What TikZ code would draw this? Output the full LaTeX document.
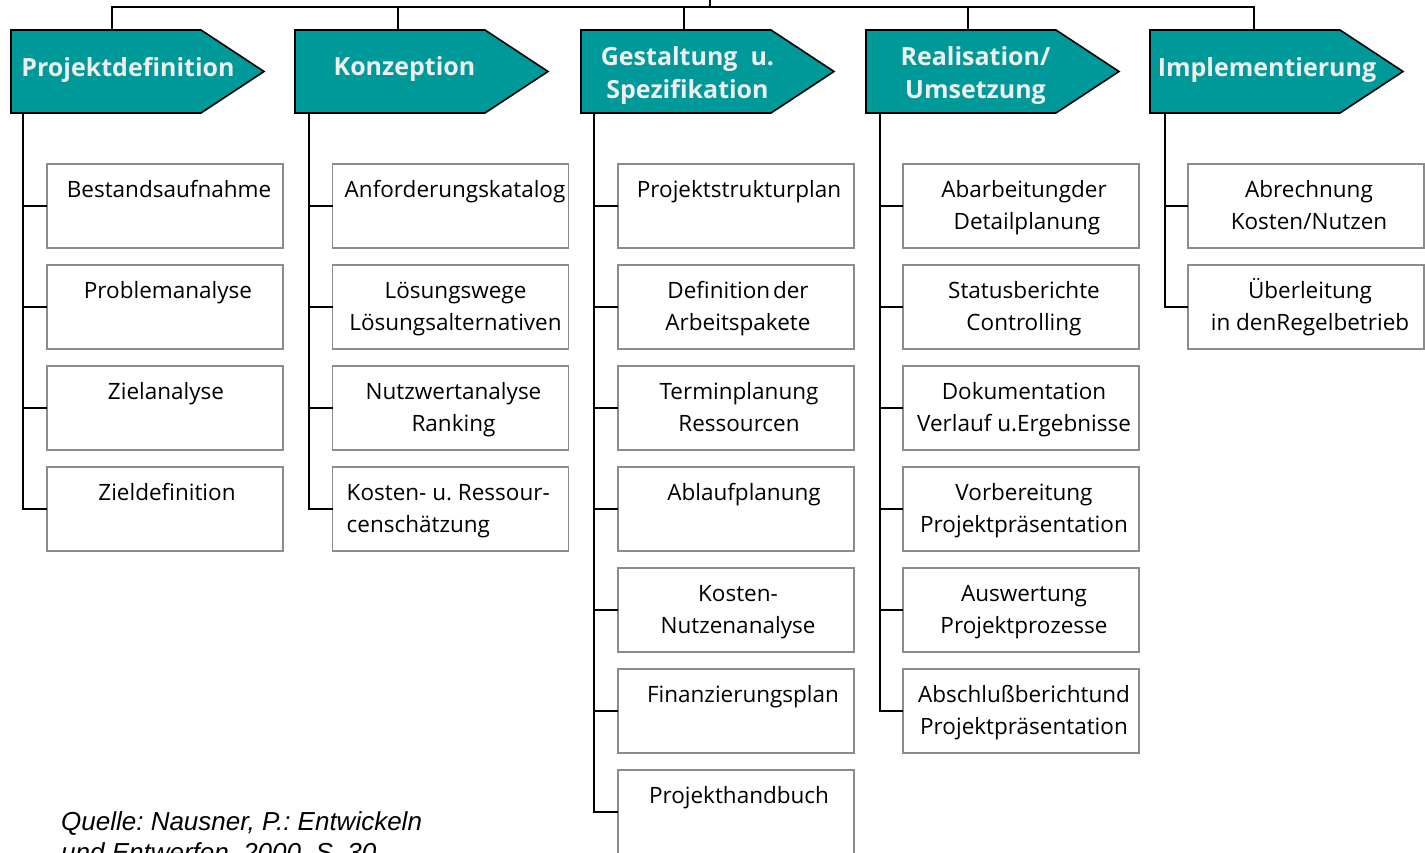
\documentclass[tikz,border=0pt]{standalone}
\usepackage{fontspec}
\setmainfont{Open Sans}
\setsansfont{Open Sans}
\newfontfamily\quellefont{Liberation Sans}
\usetikzlibrary{calc}
\frenchspacing

\definecolor{phaseteal}{RGB}{0,153,153}
\definecolor{boxgray}{RGB}{140,140,140}
\definecolor{phaselabel}{RGB}{238,238,238}

\newcommand{\tstrut}{\rule{0pt}{21pt}}
\newcommand{\qstrut}{\rule{0pt}{20pt}}

\tikzset{
  phase/.style={rectangle, minimum width=253pt, minimum height=83pt, inner sep=0pt, outer sep=0pt},
  phaseshape/.style={fill=phaseteal, draw=black, line width=1.6pt, line join=miter},
  phasetext/.style={text=phaselabel, font=\fontsize{25}{33}\selectfont\bfseries, align=center, inner sep=0pt},
  task/.style={rectangle, draw=boxgray, line width=1.5pt, minimum width=236pt, minimum height=84pt, inner sep=0pt, outer sep=0pt},
  tasktext/.style={font=\fontsize{22.5}{32.5}\selectfont, align=center, inner sep=0pt, anchor=north},
  tasktextl/.style={font=\fontsize{22.5}{32.5}\selectfont, align=left, inner sep=0pt, anchor=north west},
  link/.style={draw=black, line width=1.5pt},
}

% pentagon arrow drawn around a phase node
\newcommand{\phasearrow}[1]{%
  \draw[phaseshape] (#1.north west) -- ($(#1.north east)+(-63,0)$) -- (#1.east)
    -- ($(#1.south east)+(-63,0)$) -- (#1.south west) -- cycle;}

\begin{document}
\begin{tikzpicture}[x=1pt, y=-1pt]
  \useasboundingbox (0,0) rectangle (1425,853);
  \clip (0,0) rectangle (1425,853);

  % phases
  \node[phase] (hd1) at (137.5,71.5) {};
  \node[phase] (hd2) at (421.5,71.5) {};
  \node[phase] (hd3) at (707.5,71.5) {};
  \node[phase] (hd4) at (992.5,71.5) {};
  \node[phase] (hd5) at (1276.5,71.5) {};
  \foreach \h in {hd1,hd2,hd3,hd4,hd5} {\phasearrow{\h}}

  \node[phasetext] (ht1) at ($(hd1.center)+(-9.5,-2)$) {Projektdefinition};
  \node[phasetext] (ht2) at ($(hd2.center)+(-17,-2)$) {Konzeption};
  \node[phasetext] (ht3) at ($(hd3.center)+(-20,4)$) {Gestaltung\ \ u.\\ Spezifikation};
  \node[phasetext] (ht4) at ($(hd4.center)+(-17,4)$) {Realisation/\\Umsetzung};
  \node[phasetext] (ht5) at ($(hd5.center)+(-9.5,-1)$) {Implementierung};

  % bus on top
  \coordinate (root) at (710,0);
  \coordinate (bus) at (710,7);
  \draw[link] (root) -- (bus);
  \foreach \i/\dx in {1/101,2/103,3/103,4/102,5/104}
    \draw[link] (bus) -| ($(hd\i.north west)+(\dx,0)$);

  % column 1
  \node[task] (b11) at (165,206) {};
  \node[task] (b12) at (165,307) {};
  \node[task] (b13) at (165,408) {};
  \node[task] (b14) at (165,509) {};
  \node[tasktext] (t11) at ($(b11.north)+(4,12)$) {\tstrut Bestandsaufnahme};
  \node[tasktext] (t12) at ($(b12.north)+(3,12)$) {\tstrut Problemanalyse};
  \node[tasktext] (t13) at ($(b13.north)+(1,12)$) {\tstrut Zielanalyse};
  \node[tasktext] (t14) at ($(b14.north)+(2,12)$) {\tstrut Zieldefinition};

  % column 2
  \node[task] (b21) at (450.5,206) {};
  \node[task] (b22) at (450.5,307) {};
  \node[task] (b23) at (450.5,408) {};
  \node[task] (b24) at (450.5,509) {};
  \node[tasktextl] (t21) at ($(b21.north west)+(12,12)$) {\tstrut Anforderungskatalog};
  \node[tasktext] (t22) at ($(b22.north)+(5,12)$) {\tstrut Lösungswege\\Lösungsalternativen};
  \node[tasktext] (t23) at ($(b23.north)+(3,12)$) {\tstrut Nutzwertanalyse\\Ranking};
  \node[tasktextl] (t24) at ($(b24.north west)+(14,12)$) {\tstrut Kosten- u. Ressour-\\censchätzung};

  % column 3
  \node[task] (b31) at (736,206) {};
  \node[task] (b32) at (736,307) {};
  \node[task] (b33) at (736,408) {};
  \node[task] (b34) at (736,509) {};
  \node[task] (b35) at (736,610) {};
  \node[task] (b36) at (736,711) {};
  \node[task] (b37) at (736,812) {};
  \node[tasktext] (t31) at ($(b31.north)+(3,12)$) {\tstrut Projektstrukturplan};
  \node[tasktext] (t32) at ($(b32.north)+(2,12)$) {\tstrut Definition\hspace{0.12em}der\\Arbeitspakete};
  \node[tasktext] (t33) at ($(b33.north)+(3,12)$) {\tstrut Terminplanung\\Ressourcen};
  \node[tasktext] (t34) at ($(b34.north)+(8,12)$) {\tstrut Ablaufplanung};
  \node[tasktext] (t35) at ($(b35.north)+(2,12)$) {\tstrut Kosten-\\Nutzenanalyse};
  \node[tasktext] (t36) at ($(b36.north)+(7,12)$) {\tstrut Finanzierungsplan};
  \node[tasktext] (t37) at ($(b37.north)+(3,12)$) {\tstrut Projekthandbuch};

  % column 4
  \node[task] (b41) at (1021,206) {};
  \node[task] (b42) at (1021,307) {};
  \node[task] (b43) at (1021,408) {};
  \node[task] (b44) at (1021,509) {};
  \node[task] (b45) at (1021,610) {};
  \node[task] (b46) at (1021,711) {};
  \node[tasktext] (t41) at ($(b41.north)+(3,12)$) {\tstrut Abarbeitungder\\\ Detailplanung};
  \node[tasktext] (t42) at ($(b42.north)+(3,12)$) {\tstrut Statusberichte\\Controlling};
  \node[tasktext] (t43) at ($(b43.north)+(3,12)$) {\tstrut Dokumentation\\Verlauf u.Ergebnisse};
  \node[tasktext] (t44) at ($(b44.north)+(3,12)$) {\tstrut Vorbereitung\\Projektpräsentation};
  \node[tasktext] (t45) at ($(b45.north)+(3,12)$) {\tstrut Auswertung\\Projektprozesse};
  \node[tasktext] (t46) at ($(b46.north)+(3,12)$) {\tstrut Abschlußberichtund\\Projektpräsentation};

  % column 5
  \node[task] (b51) at (1306,206) {};
  \node[task] (b52) at (1306,307) {};
  \node[tasktext] (t51) at ($(b51.north)+(3,12)$) {\tstrut Abrechnung\\Kosten/Nutzen};
  \node[tasktext] (t52) at ($(b52.north)+(4,12)$) {\tstrut Überleitung\\in denRegelbetrieb};

  % trunks and branches
  \foreach \c/\n/\dx in {1/4/12, 2/4/14, 3/7/13, 4/6/14, 5/2/15} {
    \foreach \r in {1,...,\n} {
      \draw[link] ($(hd\c.south west)+(\dx,0)$) |- (b\c\r.west);
    }
  }

  % source note
  \node[font=\quellefont\itshape\fontsize{26}{31}\selectfont, align=left, anchor=north west, inner sep=0pt]
    (src) at (61,810) {\qstrut Quelle: Nausner, P.: Entwickeln\\und Entwerfen, 2000, S. 30};
\end{tikzpicture}
\end{document}
